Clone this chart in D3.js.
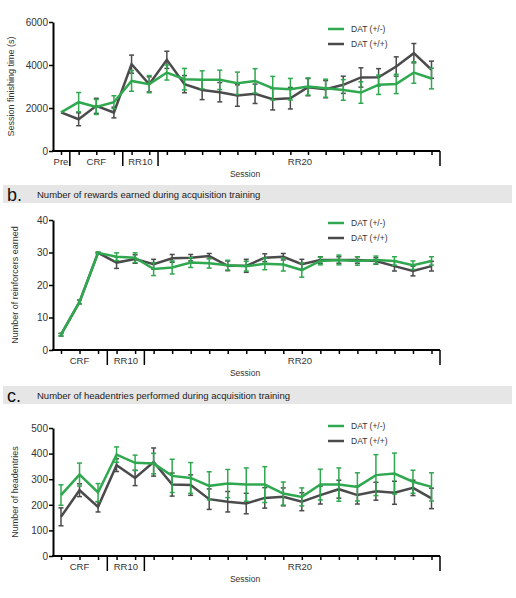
<!DOCTYPE html>
<html>
<head>
<meta charset="utf-8">
<script src="https://d3js.org/d3.v7.min.js"></script>
<style>
  body { margin: 0; background: #fff; }
  text { font-family: "Liberation Sans", Arial, sans-serif; }
</style>
</head>
<body>
<div id="chart"></div>
<script>
// sessions per panel
var sessionsA = ["Pre", "CRF", "CRF", "CRF", "RR10", "RR10"].concat(d3.range(16).map(function() { return "RR20"; }));
var sessionsBC = ["CRF", "CRF", "CRF", "RR10", "RR10"].concat(d3.range(16).map(function() { return "RR20"; }));

// a. session finishing time (s)
var aHet = [1800, 2270, 2050, 2270, 3260, 3110, 3650, 3340, 3310, 3310, 3150, 3260, 2920, 2875, 3000, 2920, 2840, 2720, 3080, 3120, 3650, 3370];
var aHetErr = [0, 450, 350, 300, 480, 400, 350, 500, 420, 450, 520, 570, 550, 500, 400, 420, 480, 500, 450, 450, 500, 480];
var aWt = [1800, 1476, 2100, 1790, 4040, 3100, 4240, 3110, 2840, 2735, 2580, 2660, 2410, 2455, 2970, 2875, 3080, 3420, 3430, 3930, 4550, 3780];
var aWtErr = [0, 300, 350, 250, 420, 350, 400, 400, 450, 450, 500, 450, 500, 500, 400, 400, 400, 450, 400, 450, 450, 400];

// b. number of reinforcers earned
var bHet = [4.7, 14.8, 29.9, 28.7, 28.4, 24.9, 25.4, 26.9, 26.7, 26.1, 25.8, 26.5, 26.3, 24.6, 27.4, 27.7, 27.4, 27.7, 27.4, 26.1, 27.4];
var bHetErr = [0.4, 0.6, 0.2, 1.2, 1.5, 2, 2, 1.5, 1.5, 1.5, 1.5, 1.8, 2, 2.2, 1.2, 1.5, 1.3, 1.2, 1.3, 1.3, 1.3];
var bWt = [4.7, 14.8, 29.9, 26.9, 28.0, 26.4, 28.2, 28.4, 28.9, 25.9, 25.9, 28.4, 28.7, 26.4, 27.7, 27.7, 27.7, 27.4, 25.8, 24.3, 25.8];
var bWtErr = [0.4, 0.6, 0.2, 1.8, 1.3, 1.5, 1.2, 1, 0.8, 1.5, 2, 1.2, 1, 1.5, 1, 1, 1, 1, 1.5, 1.5, 1.5];

// c. number of headentries
var cHet = [238, 318, 248, 396, 364, 361, 313, 305, 274, 283, 279, 279, 244, 231, 279, 279, 270, 316, 322, 290, 270];
var cHetErr = [40, 45, 35, 30, 30, 40, 65, 60, 55, 55, 65, 70, 45, 35, 60, 65, 55, 80, 80, 45, 55];
var cWt = [153, 257, 192, 355, 305, 367, 279, 277, 222, 212, 205, 227, 231, 212, 238, 261, 238, 253, 247, 266, 225];
var cWtErr = [35, 25, 20, 25, 30, 55, 45, 40, 40, 40, 40, 40, 35, 35, 35, 35, 35, 35, 45, 30, 40];

var green = "#2fa84f", grey = "#4b4b4b";

var svg = d3.select("#chart").append("svg")
    .attr("width", 516)
    .attr("height", 598);

// header bands for b and c
function header(y, letter, title) {
  svg.append("rect").attr("x", 3).attr("y", y).attr("width", 509).attr("height", 18).attr("fill", "#e6e6e6");
  svg.append("text").attr("x", 7).attr("y", y + 16).style("font-size", "18px").attr("fill", "#111").text(letter);
  svg.append("text").attr("x", 37).attr("y", y + 12.5).style("font-size", "9.5px").attr("fill", "#222").text(title);
}

function panel(opt) {
  var g = svg.append("g");
  var idx = d3.range(opt.sessions.length);
  var x = d3.scalePoint().domain(idx).range([61, 431.5]);
  var y = d3.scaleLinear().domain([0, opt.max]).range([opt.bottom, opt.top]);

  // y axis
  var ya = g.append("g").attr("transform", "translate(53,0)")
      .call(d3.axisLeft(y).tickValues(opt.ticks).tickFormat(d3.format("d")).tickSize(4).tickSizeOuter(0).tickPadding(1));
  ya.select(".domain").attr("stroke-width", 2);
  ya.selectAll(".tick line").attr("stroke-width", 1.5);
  ya.selectAll("text").style("font-size", "10px").attr("fill", "#333");

  // x axis line with session ticks
  var xa = g.append("g").attr("transform", "translate(0," + opt.bottom + ")")
      .call(d3.axisBottom(x).tickSize(4).tickFormat(""));
  xa.select(".domain").remove();
  xa.selectAll(".tick line").attr("stroke-width", 1.5);
  g.append("line").attr("x1", 52).attr("x2", 440).attr("y1", opt.bottom).attr("y2", opt.bottom)
      .attr("stroke", "#000").attr("stroke-width", 2);

  // groups: labels and separators
  var groups = [];
  opt.sessions.forEach(function(s, i) {
    var last = groups[groups.length - 1];
    if (!last || last.name !== s) groups.push({name: s, first: i, last: i});
    else last.last = i;
  });
  var step = x.step();
  groups.forEach(function(gr, k) {
    var cx = (x(gr.first) + x(gr.last)) / 2;
    if (gr.name === "RR20") cx = 300;
    g.append("text").attr("x", cx).attr("y", opt.bottom + 14).attr("text-anchor", "middle")
        .style("font-size", "9.5px").attr("fill", "#333").text(gr.name);
    var sx = k < groups.length - 1 ? x(gr.last) + step / 2 : 440;
    g.append("line").attr("x1", sx).attr("x2", sx).attr("y1", opt.bottom).attr("y2", opt.bottom + 15)
        .attr("stroke", "#000").attr("stroke-width", 1.5);
  });

  g.append("text").attr("x", 245).attr("y", opt.bottom + 26).attr("text-anchor", "middle")
      .style("font-size", "8.5px").attr("fill", "#333").text("Session");

  g.append("text")
      .attr("transform", "translate(" + opt.ylx + "," + (opt.top + opt.bottom) / 2 + ") rotate(-90)")
      .attr("text-anchor", "middle").style("font-size", "9px").attr("fill", "#333").text(opt.ylabel);

  // series: grey first, green on top
  var series = [
    {vals: opt.wt, err: opt.wtErr, color: grey},
    {vals: opt.het, err: opt.hetErr, color: green}
  ];
  series.forEach(function(s) {
    var pts = s.vals.map(function(v, i) { return {i: i, v: v, e: s.err[i]}; });
    var eg = g.append("g").attr("stroke", s.color).attr("stroke-width", 1.5);
    pts.filter(function(d) { return d.e > 0; }).forEach(function(d) {
      var px = x(d.i);
      eg.append("line").attr("x1", px).attr("x2", px).attr("y1", y(d.v - d.e)).attr("y2", y(d.v + d.e));
      eg.append("line").attr("x1", px - 2.5).attr("x2", px + 2.5).attr("y1", y(d.v - d.e)).attr("y2", y(d.v - d.e));
      eg.append("line").attr("x1", px - 2.5).attr("x2", px + 2.5).attr("y1", y(d.v + d.e)).attr("y2", y(d.v + d.e));
    });
    g.append("path").datum(pts)
        .attr("fill", "none").attr("stroke", s.color).attr("stroke-width", 2.5)
        .attr("d", d3.line().x(function(d) { return x(d.i); }).y(function(d) { return y(d.v); }));
  });

  // legend
  var leg = [{name: "DAT (+/-)", color: green}, {name: "DAT (+/+)", color: grey}];
  leg.forEach(function(l, k) {
    var ly = opt.legY + k * 15;
    g.append("line").attr("x1", 328).attr("x2", 344).attr("y1", ly).attr("y2", ly)
        .attr("stroke", l.color).attr("stroke-width", 2.5);
    g.append("text").attr("x", 351).attr("y", ly + 3).style("font-size", "8.5px").attr("fill", "#333").text(l.name);
  });
}

panel({sessions: sessionsA, het: aHet, hetErr: aHetErr, wt: aWt, wtErr: aWtErr,
  max: 6000, ticks: [0, 2000, 4000, 6000], top: 22, bottom: 151,
  ylabel: "Session finishing time (s)", ylx: 14, legY: 29});

header(185, "b.", "Number of rewards earned during acquisition training");
panel({sessions: sessionsBC, het: bHet, hetErr: bHetErr, wt: bWt, wtErr: bWtErr,
  max: 40, ticks: [0, 10, 20, 30, 40], top: 220, bottom: 350,
  ylabel: "Number of reinforcers earned", ylx: 18, legY: 223});

header(386, "c.", "Number of headentries performed during acquisition training");
panel({sessions: sessionsBC, het: cHet, hetErr: cHetErr, wt: cWt, wtErr: cWtErr,
  max: 500, ticks: [0, 100, 200, 300, 400, 500], top: 428, bottom: 556,
  ylabel: "Number of headentries", ylx: 18, legY: 426});
</script>
</body>
</html>
